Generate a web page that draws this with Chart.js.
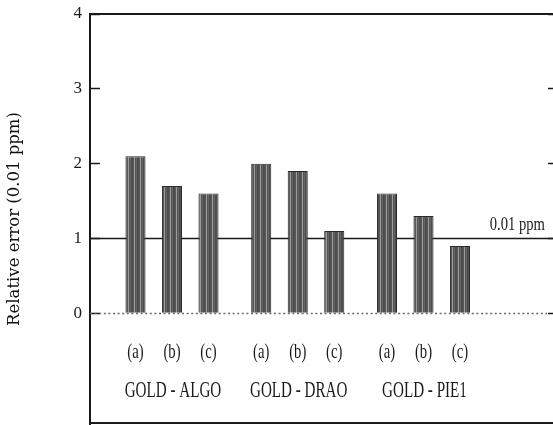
<!DOCTYPE html>
<html>
<head>
<meta charset="utf-8">
<script src="https://cdn.jsdelivr.net/npm/chart.js@4/dist/chart.umd.min.js"></script>
<style>
  html, body { margin: 0; padding: 0; background: #ffffff; }
  #wrap { width: 553px; height: 425px; position: relative; }
</style>
</head>
<body>
<div id="wrap"><canvas id="c"></canvas></div>
<script>
// ---- data ----
const groups = ['GOLD - ALGO', 'GOLD - DRAO', 'GOLD - PIE1'];
const seriesLabels = ['(a)', '(b)', '(c)'];
const seriesA = [2.1, 2.0, 1.6];
const seriesB = [1.7, 1.9, 1.3];
const seriesC = [1.6, 1.1, 0.9];
const yTicks = [0, 1, 2, 3, 4];
const refValue = 1;
const refLabel = '0.01 ppm';
const zeroValue = 0;
const yTitle = 'Relative error (0.01 ppm)';

// ---- styling ----
const INK = '#1a1a1a';
function makeStripePattern() {
  const c = document.createElement('canvas');
  c.width = 6; c.height = 4;
  const g = c.getContext('2d');
  const cols = ['#505050', '#585858', '#9c9c9c', '#555555', '#666666', '#4b4b4b'];
  cols.forEach((col, i) => { g.fillStyle = col; g.fillRect(i, 0, 1, 4); });
  return g.createPattern(c, 'repeat');
}
const stripes = makeStripePattern();

const allSeries = [seriesA, seriesB, seriesC];
const datasets = allSeries.map((vals, si) => ({
  label: seriesLabels[si],
  data: vals.map((v, gi) => ({ x: gi, y: v })),
  backgroundColor: stripes,
  borderColor: '#2a2a2a',
  borderWidth: 1,
  borderSkipped: 'bottom',
  categoryPercentage: 0.871,
  barPercentage: 0.55
}));

const keepTicks = (scale) => {
  scale.ticks = yTicks.map(v => ({ value: v }));
};
const pinLeft = (scale) => { scale.width = 90; scale.paddingTop = 0; scale.paddingBottom = 0; };
const pinRight = (scale) => { scale.width = 0; scale.paddingTop = 0; scale.paddingBottom = 0; };

function condensedText(ctx, text, x, y, size, sx, align, baseline) {
  ctx.save();
  ctx.translate(x, y);
  ctx.scale(sx, 1);
  ctx.font = size + 'px "Liberation Serif", "Times New Roman", serif';
  ctx.fillStyle = INK;
  ctx.textAlign = align;
  ctx.textBaseline = baseline;
  ctx.fillText(text, 0, 0);
  ctx.restore();
}

const framePlugin = {
  id: 'frame',
  beforeDatasetsDraw(chart) {
    const { ctx, chartArea: a, scales: { y } } = chart;
    ctx.save();
    // dotted zero line
    ctx.strokeStyle = '#6a6a6a';
    ctx.lineWidth = 1.3;
    ctx.setLineDash([2, 2.6]);
    const y0 = Math.round(y.getPixelForValue(zeroValue)) + 0.5;
    ctx.beginPath(); ctx.moveTo(a.left, y0); ctx.lineTo(a.right - 6, y0); ctx.stroke();
    ctx.setLineDash([]);
    // solid reference line
    ctx.strokeStyle = INK;
    ctx.lineWidth = 1.6;
    const y1 = Math.round(y.getPixelForValue(refValue)) + 0.5;
    ctx.beginPath(); ctx.moveTo(a.left, y1); ctx.lineTo(a.right, y1); ctx.stroke();
    ctx.restore();
  },
  afterDatasetsDraw(chart) {
    const { ctx, chartArea: a, scales: { x, y } } = chart;
    ctx.save();
    // top and bottom frame lines
    ctx.strokeStyle = INK;
    ctx.lineWidth = 2;
    ctx.beginPath();
    ctx.moveTo(a.left, a.top); ctx.lineTo(a.right, a.top);
    ctx.moveTo(a.left, a.bottom - 1); ctx.lineTo(a.right, a.bottom - 1);
    ctx.stroke();
    ctx.restore();
    // reference label
    condensedText(ctx, refLabel, a.right - 8, y.getPixelForValue(refValue) - 4, 19, 0.77, 'right', 'bottom');
    // series labels under every bar
    chart.data.datasets.forEach((ds, di) => {
      chart.getDatasetMeta(di).data.forEach(el => {
        condensedText(ctx, ds.label, el.x, y.getPixelForValue(-0.53), 21, 0.7, 'center', 'middle');
      });
    });
    // group labels
    groups.forEach((g, gi) => {
      condensedText(ctx, g, x.getPixelForValue(gi) + 1, y.getPixelForValue(-1.03), 24, 0.63, 'center', 'middle');
    });
  }
};

new Chart(document.getElementById('c'), {
  type: 'bar',
  data: { datasets },
  plugins: [framePlugin],
  options: {
    responsive: true,
    maintainAspectRatio: false,
    animation: false,
    devicePixelRatio: 1,
    layout: { padding: { top: 14, bottom: 1, left: 0, right: 0 } },
    plugins: { legend: { display: false }, tooltip: { enabled: false } },
    scales: {
      x: {
        type: 'linear',
        display: false,
        offset: false,
        min: -0.652,
        max: 3.03,
        grid: { offset: false },
        ticks: { stepSize: 1, includeBounds: false }
      },
      y: {
        position: 'left',
        min: -1.48,
        max: 4,
        afterBuildTicks: keepTicks,
        afterFit: pinLeft,
        border: { display: true, color: INK, width: 2 },
        grid: { drawOnChartArea: false, drawTicks: true, tickLength: -10, tickColor: INK, tickWidth: 1.5 },
        ticks: {
          padding: 18,
          color: INK,
          font: { family: '"Liberation Serif", serif', size: 17 }
        },
        title: {
          display: true,
          text: yTitle,
          color: '#111111',
          font: { family: '"DejaVu Serif", serif', size: 16.5 },
          padding: { top: 5, bottom: 0 }
        }
      },
      y2: {
        position: 'right',
        min: -1.48,
        max: 4,
        afterBuildTicks: keepTicks,
        afterFit: pinRight,
        border: { display: false },
        grid: { drawOnChartArea: false, drawTicks: true, tickLength: -5, tickColor: INK, tickWidth: 1.5 },
        ticks: { display: false }
      }
    }
  }
});
</script>
</body>
</html>
